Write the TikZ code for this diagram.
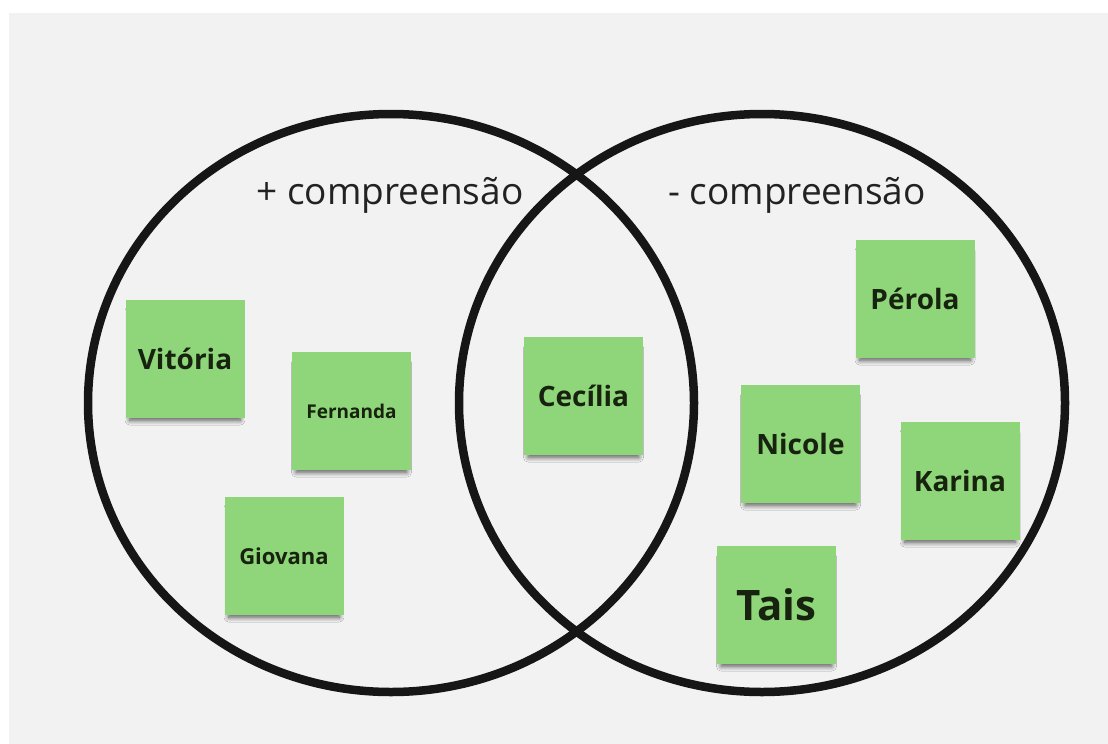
\documentclass[tikz,border=0pt]{standalone}
\usepackage{fontspec}
\setmainfont{Open Sans}
\usetikzlibrary{shadows.blur}
\definecolor{paper}{HTML}{F2F2F2}
\definecolor{notegreen}{RGB}{143,214,122}
\definecolor{ink}{HTML}{161616}
\definecolor{notetext}{HTML}{17230F}
\newcommand{\fsz}[1]{\fontsize{#1}{#1}\selectfont}
\begin{document}
\begin{tikzpicture}[x=1pt,y=-1pt,
  stickynote/.style={fill=notegreen, minimum width=119pt, minimum height=118pt,
    inner sep=0pt, text=notetext, font=\bfseries,
    blur shadow={shadow xshift=0pt, shadow yshift=-7pt, shadow scale=0.93,
      shadow opacity=65, shadow blur steps=10, shadow blur radius=5pt}},
  ring/.style={draw=ink, line width=8.5pt},
  heading/.style={text=ink!95, font=\fsz{37}, inner sep=0pt}]
  % page and grey board
  \useasboundingbox (0,0) rectangle (1108,744);
  \fill[white] (0,0) rectangle (1108,744);
  \fill[paper] (9,13) rectangle (1120,760);

  % the two sets
  \draw[ring] (391,403) ellipse [x radius=303, y radius=289];
  \draw[ring] (762,403) ellipse [x radius=303, y radius=289];

  % set headings
  \node[heading] (more) at (390,195) {+ compreensão};
  \node[heading] (less) at (797,195) {- compreensão};

  % sticky notes
  \node[stickynote, font=\bfseries\fsz{28}] (vitoria)  at (185,359)   {Vitória};
  \node[stickynote, font=\bfseries\fsz{19}] (fernanda) at (351.5,411) {Fernanda};
  \node[stickynote, font=\bfseries\fsz{22}] (giovana)  at (284,556)   {Giovana};
  \node[stickynote, font=\bfseries\fsz{28}] (cecilia)  at (583.5,396) {Cecília};
  \node[stickynote, font=\bfseries\fsz{28}] (perola)   at (915,299)   {Pérola};
  \node[stickynote, font=\bfseries\fsz{28}] (nicole)   at (800.5,444) {Nicole};
  \node[stickynote, font=\bfseries\fsz{28}] (karina)   at (960,481)   {Karina};
  \node[stickynote, font=\bfseries\fsz{42}] (tais)     at (776.5,605) {Tais};
\end{tikzpicture}
\end{document}
